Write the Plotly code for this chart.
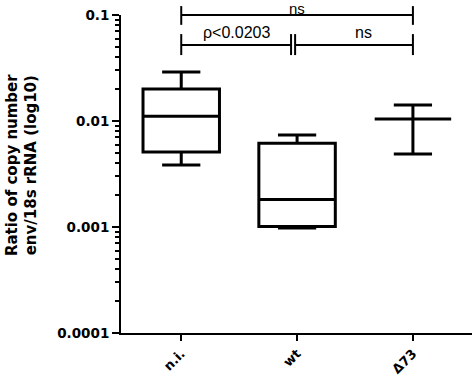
import plotly.graph_objects as go

categories = ["n.i.", "wt", "Δ73"]
lower_whisker = [0.00385, 0.00098, 0.00489]
q1_vals = [0.0051, 0.00101, 0.01045]
median_vals = [0.0111, 0.00182, 0.01045]
q3_vals = [0.0200, 0.00616, 0.01045]
upper_whisker = [0.0290, 0.00738, 0.01416]

y_tickvals = [0.0001, 0.001, 0.01, 0.1]
y_ticktext = ["0.0001", "0.001", "0.01", "0.1"]
minor_vals = [m * 10.0 ** e for e in (-4, -3, -2) for m in range(2, 10)]

sig_top_label = "ns"
sig_left_label = "ρ<0.0203"
sig_right_label = "ns"

fig = go.Figure()
for i, c in enumerate(categories):
    fig.add_trace(go.Box(
        x=[c], q1=[q1_vals[i]], median=[median_vals[i]], q3=[q3_vals[i]],
        lowerfence=[lower_whisker[i]], upperfence=[upper_whisker[i]],
        width=0.66, whiskerwidth=0.5,
        line=dict(color="black", width=3),
        fillcolor="rgba(0,0,0,0)",
        boxpoints=False, showlegend=False, hoverinfo="skip",
    ))

black = dict(color="black", width=2)
# top bracket
fig.add_shape(type="line", xref="x", yref="paper", x0=0, x1=2, y0=1.0, y1=1.0, line=black)
fig.add_shape(type="line", xref="x", yref="paper", x0=0, x1=0, y0=0.969, y1=1.028, line=black)
fig.add_shape(type="line", xref="x", yref="paper", x0=2, x1=2, y0=0.969, y1=1.028, line=black)
# second bracket (broken in the middle)
fig.add_shape(type="line", xref="x", yref="paper", x0=0, x1=0.948, y0=0.906, y1=0.906, line=black)
fig.add_shape(type="line", xref="x", yref="paper", x0=0.983, x1=2, y0=0.906, y1=0.906, line=black)
for xv in (0, 0.948, 0.983, 2):
    fig.add_shape(type="line", xref="x", yref="paper", x0=xv, x1=xv, y0=0.874, y1=0.94, line=black)

ann_font = dict(family="Liberation Sans, Arial, sans-serif", size=16, color="black")
fig.add_annotation(x=1.0, xref="x", y=1.022, yref="paper", text=sig_top_label,
                   showarrow=False, font=dict(family="Liberation Sans, Arial, sans-serif",
                                              size=15, color="black"),
                   xanchor="center", yanchor="middle", borderpad=0)
fig.add_annotation(x=0.48, xref="x", y=0.945, yref="paper", text=sig_left_label,
                   showarrow=False, font=ann_font, xanchor="center", yanchor="middle")
fig.add_annotation(x=1.57, xref="x", y=0.945, yref="paper", text=sig_right_label,
                   showarrow=False, font=ann_font, xanchor="center", yanchor="middle")

# y-axis title as annotation
fig.add_annotation(x=-0.282, xref="paper", y=0.528, yref="paper",
                   text="<b>Ratio of copy number<br>env/18s rRNA (log10)</b>",
                   textangle=-90, showarrow=False, xanchor="center", yanchor="middle",
                   font=dict(family="DejaVu Sans, sans-serif", size=15, color="black"))

tick_font = dict(family="DejaVu Sans, sans-serif", size=13.5, color="black", weight="bold")
fig.update_layout(
    width=474, height=378,
    margin=dict(l=121, r=2, t=15, b=45, autoexpand=False),
    paper_bgcolor="white", plot_bgcolor="white",
    xaxis=dict(type="category", range=[-0.52, 2.51], showline=True, linecolor="black",
               linewidth=2, ticks="outside", ticklen=6, tickwidth=2, tickcolor="black",
               tickangle=-45, automargin=False,
               tickfont=dict(family="DejaVu Sans, sans-serif", size=13,
                             color="black", weight="bold"),
               showgrid=False, zeroline=False),
    yaxis=dict(type="log", range=[-4, -1], showline=True, linecolor="black", linewidth=2,
               ticks="outside", ticklen=7, tickwidth=2, tickcolor="black", automargin=False,
               tickvals=y_tickvals, ticktext=y_ticktext, tickfont=tick_font,
               minor=dict(tickvals=minor_vals, ticks="outside", ticklen=4, tickwidth=1.5,
                          tickcolor="black", showgrid=False),
               showgrid=False, zeroline=False),
)

fig.write_html("out.html", config={"displayModeBar": False},
               post_script="document.body.style.margin='0';")
